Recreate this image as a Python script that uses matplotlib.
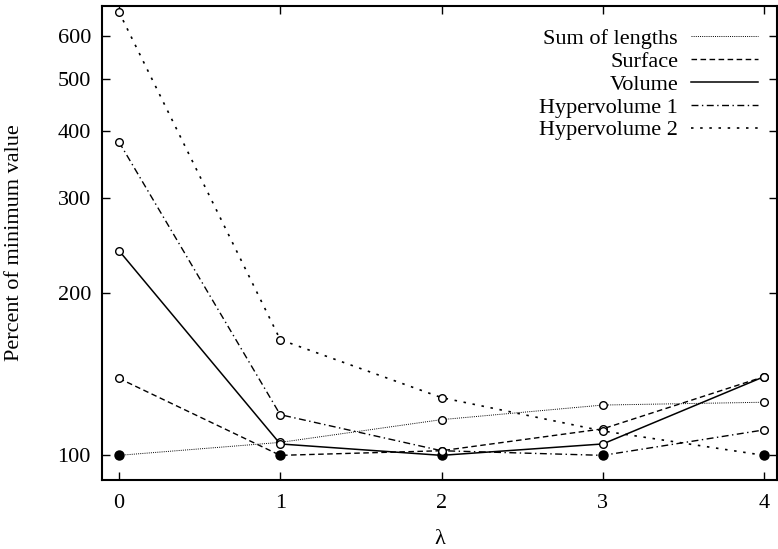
import numpy as np
import matplotlib
matplotlib.use("Agg")
import matplotlib.pyplot as plt
from matplotlib.ticker import FixedLocator, FixedFormatter, NullLocator

# lambda values and percent-of-minimum values
lam = [0, 1, 2, 3, 4]
sum_lengths = [100, 105.7, 116.5, 124, 125.5]
surface = [139, 100, 102, 112, 140]
volume = [240, 105, 100, 105, 140]
hyper1 = [382, 119, 102, 100, 111.5]
hyper2 = [666, 164, 128, 111, 100]

labels = ['Sum of lengths', 'Surface', 'Volume', 'Hypervolume 1', 'Hypervolume 2']
styles = [(0, (1, 1.2)), (0, (4, 2.5)), '-', (0, (5, 2.5, 1, 2.5)), (0, (1.5, 4))]
widths = [0.7, 1.0, 1.1, 1.0, 1.2]
yticks = [100, 200, 300, 400, 500, 600]

plt.rcParams['font.family'] = ['Liberation Serif', 'DejaVu Serif']

fig = plt.figure(figsize=(7.78, 5.49), dpi=100)
ax = fig.add_axes([102 / 778, 69 / 549, 675 / 778, 474 / 549])

for ys, lab, ls, lw in zip([sum_lengths, surface, volume, hyper1, hyper2], labels, styles, widths):
    ys = np.array(ys)
    ax.plot(lam, ys, color='black', linestyle=ls, linewidth=lw, label=lab)
    ax.plot(lam, ys, linestyle='none', marker='o', markersize=5.5,
            markerfacecolor='white', markeredgecolor='black', markeredgewidth=1.0)
    i = int(np.argmin(ys))
    ax.plot(lam[i], ys[i], linestyle='none', marker='o', markersize=6.5,
            markerfacecolor='black', markeredgecolor='black')

ax.set_yscale('log')
ax.set_ylim(90, 683)
ax.set_xlim(-0.105, 4.08)
ax.yaxis.set_major_locator(FixedLocator(yticks))
ax.yaxis.set_major_formatter(FixedFormatter([str(t) for t in yticks]))
ax.yaxis.set_minor_locator(NullLocator())
ax.set_xticks(lam)
ax.tick_params(direction='in', top=True, right=True, length=6, width=1,
               labelsize=16)
ax.tick_params(axis='x', pad=10)
ax.tick_params(axis='y', pad=8)

for s in ax.spines.values():
    s.set_linewidth(1.5)

ax.set_xlabel('λ', fontsize=16, labelpad=12)
ax.set_ylabel('Percent of minimum value', fontsize=16, labelpad=24)

leg = ax.legend(loc='upper right', bbox_to_anchor=(0.995, 0.985), frameon=False,
                markerfirst=False, fontsize=16, handlelength=3.0,
                labelspacing=0.1, handletextpad=0.6, borderaxespad=0.3)
for t in leg.get_texts():
    t.set_ha('right')
leg._legend_box.align = 'right'

fig.savefig('out.png', dpi=100)
